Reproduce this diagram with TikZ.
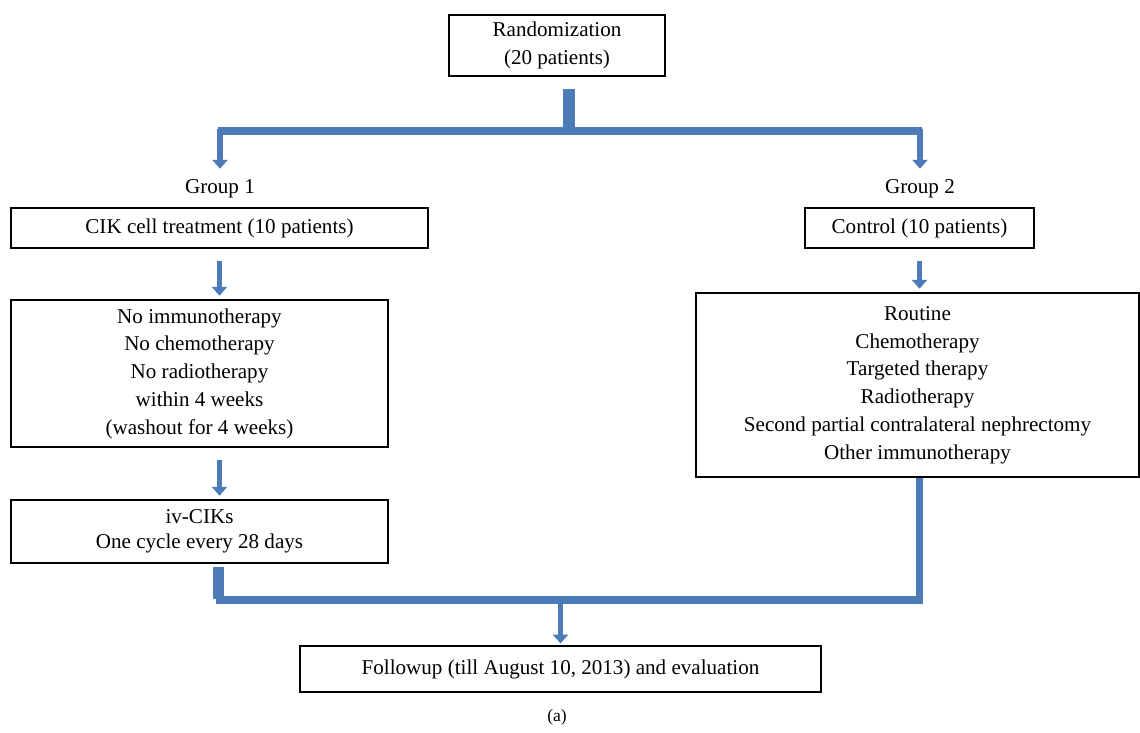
\documentclass[tikz,border=0pt]{standalone}
\usepackage{fontspec}
\setmainfont{Liberation Serif}
\usetikzlibrary{calc}
\usetikzlibrary{arrows.meta}
\definecolor{barblue}{RGB}{76,123,184}

\begin{document}
\begin{tikzpicture} [x=0.02cm,y=-0.02cm,
  box/.style={draw=black, line width=0.9pt, fill=white, align=center, inner sep=2pt,
    font=\fontsize{12}{15.8}\selectfont},
  lbl/.style={font=\fontsize{12}{14}\selectfont, inner sep=1pt},
  bar/.style={barblue, line width=4.4pt},
  arr/.style={barblue, line width=3.4pt, -{Triangle[width=8.5pt,length=5pt]}}]
\useasboundingbox (0,0) rectangle (1140,733);
% boxes
\node[box, minimum width=4.32cm, minimum height=1.22cm] (rand) at (557,45.5) {Randomization\\(20 patients)};
\node[lbl] (g1) at (220,189) {Group 1};
\node[lbl] (g2) at (920,189) {Group 2};
\node[box, minimum width=8.34cm, minimum height=0.8cm] (cik) at (219.5,228) {CIK cell treatment (10 patients)};
\node[box, minimum width=4.58cm, minimum height=0.8cm] (ctrl) at (919.5,228) {Control (10 patients)};
\node[box, minimum width=7.54cm, minimum height=2.94cm] (wash) at (199.5,373.5) {No immunotherapy\\No chemotherapy\\No radiotherapy\\within 4 weeks\\(washout for 4 weeks)};
\node[box, minimum width=8.86cm, minimum height=3.68cm] (routine) at (917.5,385) {Routine\\Chemotherapy\\Targeted therapy\\Radiotherapy\\Second partial contralateral nephrectomy\\Other immunotherapy};
\node[box, minimum width=7.54cm, minimum height=1.26cm, font=\fontsize{12}{14}\selectfont] (ivcik) at (199.5,531.5) {iv-CIKs\\One cycle every 28 days};
\node[box, minimum width=10.42cm, minimum height=0.92cm] (follow) at (560.5,669) {Followup (till August 10, 2013) and evaluation};
\node[font=\fontsize{10}{12}\selectfont] (cap) at (557,717) {(a)};
% split
\coordinate (split) at (569,131);
\draw[bar, line width=6.8pt] ($(rand.south)+(12,12)$) -- ($(split)+(0,-4)$);
\draw[bar] ($(g1 |- split)+(-2,0)$) -- ($(g2 |- split)+(2,0)$);
\draw[arr] ($(g1 |- split)+(0,-2)$) -- ($(g1.north)+(0,-9)$);
\draw[arr] ($(g2 |- split)+(0,-2)$) -- ($(g2.north)+(0,-9)$);
% down the groups
\draw[arr, shorten <=7, shorten >=2] (cik.south) -- (cik.south |- wash.north);
\draw[arr, shorten <=7, shorten >=2] (ctrl.south) -- (ctrl.south |- routine.north);
\draw[arr, shorten <=7, shorten >=2] (cik.south |- wash.south) -- (cik.south |- ivcik.north);
% join
\coordinate (join) at (follow.north |- 0,600);
\draw[bar, line width=6.2pt] ($(cik.south |- ivcik.south)+(-1,3)$) -- ($(cik.south |- join)+(-1,-1)$);
\draw[bar] ($(cik.south |- join)+(-4,0)$) -| (ctrl.south |- routine.south);
\draw[arr, shorten >=1] (join) -- (follow.north);
\end{tikzpicture}
\end{document}
